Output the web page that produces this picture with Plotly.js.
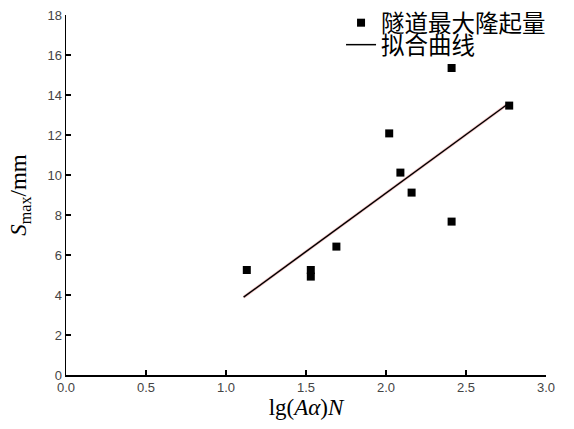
<!DOCTYPE html>
<html><head><meta charset="utf-8">
<script src="https://cdn.plot.ly/plotly-3.0.1.min.js"></script>
<style>html,body{margin:0;padding:0;background:#fff}</style>
</head><body>
<div id="chart" style="width:574px;height:429px"></div>
<script>
// Measured points: x = lg(Aα)N, y = Smax (mm)
const pointX = [1.13, 1.53, 1.53, 1.69, 2.02, 2.09, 2.16, 2.41, 2.41, 2.77];
const pointY = [5.25, 4.92, 5.25, 6.42, 12.08, 10.12, 9.12, 7.67, 15.35, 13.47];
// Fitted line end points
const fitX = [1.11, 2.77];
const fitY = [3.89, 13.6];
const seriesNames = ['隧道最大隆起量', '拟合曲线'];

const traces = [
  {x: fitX, y: fitY, mode: 'lines', line: {color: '#f9cccc', width: 3}, showlegend: false, hoverinfo: 'skip'},
  {x: fitX, y: fitY, mode: 'lines', name: seriesNames[1], line: {color: '#000', width: 1.5}, legend: 'legend2'},
  {x: pointX, y: pointY, mode: 'markers', name: seriesNames[0], marker: {symbol: 'square', size: 8, color: '#000'}, legend: 'legend'}
];

const cjk = '"Noto Sans CJK SC", sans-serif';
const serif = '"Liberation Serif", "Times New Roman", serif';
const layout = {
  width: 574, height: 429,
  margin: {l: 66, r: 28, t: 15, b: 54, autoexpand: false},
  paper_bgcolor: '#fff', plot_bgcolor: '#fff',
  font: {family: 'Arial, "Liberation Sans", sans-serif', size: 13, color: '#444'},
  xaxis: {
    range: [0, 3], dtick: 0.5, tickformat: '.1f', showgrid: false, zeroline: false,
    showline: true, linecolor: '#000', linewidth: 1.5,
    ticks: 'inside', ticklen: 5, tickcolor: '#000', tickwidth: 1.2,
    title: {text: 'lg(<i>Aα</i>)<i>N</i>', font: {family: serif, size: 23, color: '#000'}, standoff: 4}
  },
  yaxis: {
    range: [0, 18], dtick: 2, showgrid: false, zeroline: false,
    showline: true, linecolor: '#000', linewidth: 1.5,
    ticks: 'inside', ticklen: 5, tickcolor: '#000', tickwidth: 1.2,
    title: {text: '<i>S</i><sub>max</sub>/mm', font: {family: serif, size: 23, color: '#000'}, standoff: 14}
  },
  legend: {x: 0.573, xanchor: 'left', y: 0.978, yanchor: 'middle', bgcolor: 'rgba(0,0,0,0)', borderwidth: 0,
           font: {family: cjk, size: 23.5, color: '#000'}},
  legend2: {x: 0.573, xanchor: 'left', y: 0.917, yanchor: 'middle', bgcolor: 'rgba(0,0,0,0)', borderwidth: 0,
           font: {family: cjk, size: 23.5, color: '#000'}}
};

Plotly.newPlot('chart', traces, layout, {displayModeBar: false, staticPlot: true});
</script>
</body></html>
